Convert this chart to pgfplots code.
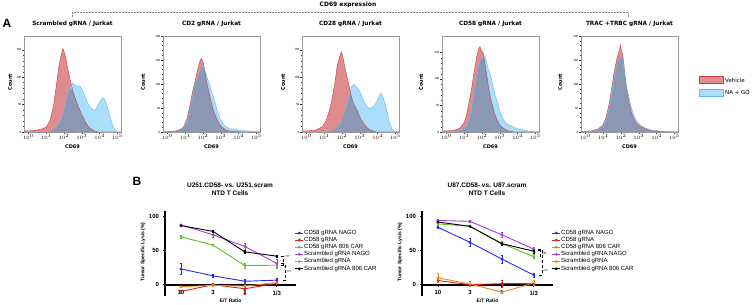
\documentclass[border=0pt]{standalone}
\usepackage{fontspec}
\setmainfont{Liberation Sans}
\newfontfamily\verd{DejaVu Sans}
\usepackage{pgfplots}
\pgfplotsset{compat=1.18}
\usepackage{pgfplotstable}

\definecolor{hred}{RGB}{224,140,142}
\definecolor{hredline}{RGB}{205,60,70}
\definecolor{hblue}{RGB}{170,222,250}
\definecolor{hblueline}{RGB}{100,185,235}
\definecolor{hover}{RGB}{138,152,182}
\definecolor{cBlue}{RGB}{40,40,250}
\definecolor{cRed}{RGB}{225,30,30}
\definecolor{cGreen}{RGB}{100,190,40}
\definecolor{cPurple}{RGB}{165,60,235}
\definecolor{cOrange}{RGB}{240,130,40}

\pgfplotstableread{
x r b
-0.25 55 0
-0.22 2 0
0.0 2 0
0.4 3 0
0.8 6 0
1.0 9 0
1.2 20 1
1.4 46 4
1.55 80 8
1.7 118 14
1.8 135 20
1.9 148 28
1.95 152 33
2.0 147 40
2.1 135 55
2.2 116 68
2.35 95 82
2.5 74 89
2.6 64 86
2.7 55 84
2.8 46 82
2.9 39 84
3.0 31 79
3.1 25 71
3.2 18 63
3.3 13 55
3.4 9 48
3.5 6 44
3.6 4 41
3.7 2 40
3.8 1 42
3.9 0 48
4.0 0 55
4.1 0 60
4.2 0 62
4.3 0 58
4.4 0 50
4.5 0 38
4.6 0 26
4.7 0 15
4.8 0 7
4.9 0 3
5.0 0 0
5.2 0 0
}\Pone

\pgfplotstableread{
x r b
-0.25 50 3
-0.22 2 0
0.0 1 1
0.4 2 1
0.7 5 3
0.9 10 8
1.1 28 20
1.25 53 40
1.4 82 72
1.55 105 98
1.7 130 115
1.8 145 125
1.9 153 133
1.95 150 137
2.0 146 136
2.1 128 128
2.2 105 118
2.35 80 100
2.5 56 82
2.6 44 70
2.7 34 58
2.8 25 45
2.95 15 28
3.1 9 18
3.3 4 11
3.5 2 7
3.8 1 5
4.2 0 3
4.6 0 2
5.0 0 1
5.2 0 0
}\Ptwo

\pgfplotstableread{
x r b
-0.25 80 0
-0.22 2 0
0.0 2 0
0.5 3 0
0.9 10 0
1.1 20 1
1.3 40 2
1.45 62 3
1.6 90 5
1.72 119 8
1.85 135 12
1.95 146 18
2.02 141 24
2.1 128 32
2.2 112 40
2.3 98 52
2.45 75 75
2.55 62 83
2.65 52 87
2.8 42 82
2.9 36 80
3.05 24 70
3.2 16 58
3.35 10 48
3.5 5 43
3.65 3 44
3.8 1 47
3.95 0 55
4.1 0 66
4.2 0 71
4.3 0 64
4.45 0 48
4.6 0 26
4.7 0 14
4.8 0 6
4.95 0 1
5.2 0 0
}\Pthree

\pgfplotstableread{
x r b
-0.25 50 2
-0.22 2 0
0.0 2 0
0.4 3 1
0.75 7 3
1.0 18 6
1.1 29 10
1.25 52 20
1.4 79 40
1.55 112 72
1.7 142 104
1.8 155 122
1.88 161 132
1.97 153 139
2.08 148 142
2.16 130 143
2.25 110 132
2.36 85 118
2.45 68 111
2.6 48 88
2.74 32 68
2.85 22 58
3.0 13 40
3.2 7 23
3.4 3 15
3.6 1 12
3.8 0 9
4.0 0 6
4.3 0 4
4.6 0 2
5.0 0 0
5.2 0 0
}\Pfour

\pgfplotstableread{
x r b
-0.25 8 2
-0.2 1 1
0.3 2 1
0.7 6 4
1.0 15 11
1.15 30 24
1.3 53 45
1.45 85 75
1.6 122 110
1.75 150 138
1.85 164 148
1.92 172 152
1.97 181 156
2.03 168 158
2.1 160 150
2.2 125 120
2.3 95 95
2.45 60 70
2.6 38 48
2.75 25 32
2.9 17 22
3.1 11 14
3.4 6 8
3.7 3 4
4.2 1 2
4.7 0 1
5.2 0 0
}\Pfive

\pgfplotsset{
  histax/.style={anchor=south west, scale only axis, width=97pt, height=96pt,
    xmin=-0.25, xmax=5.2, ymin=0,
    axis line style={gray!80, line width=0.6pt},
    tick align=outside, xtick pos=left, ytick pos=left,
    tick style={black!80, line width=0.3pt},
    major tick length=1.6pt, minor tick length=0.9pt,
    xtick={0,1,2,3,4,5},
    xticklabels={$10^{0}$,$10^{1}$,$10^{2}$,$10^{3}$,$10^{4}$,$10^{5}$},
    minor xtick={-0.222,-0.155,-0.097,-0.046,
      0.301,0.477,0.602,0.699,0.778,0.845,0.903,0.954,
      1.301,1.477,1.602,1.699,1.778,1.845,1.903,1.954,
      2.301,2.477,2.602,2.699,2.778,2.845,2.903,2.954,
      3.301,3.477,3.602,3.699,3.778,3.845,3.903,3.954,
      4.301,4.477,4.602,4.699,4.778,4.845,4.903,4.954},
    minor y tick num=4,
    ticklabel style={font=\fontsize{3}{3}\selectfont, inner sep=0.8pt},
    /pgf/number format/assume math mode=true,
    axis on top},
  eb/.style={error bars/.cd, y dir=both, y explicit,
    error bar style={line width=0.6pt, solid},
    error mark options={rotate=90, mark size=1.3pt, line width=0.6pt}},
  lineax/.style={anchor=south west, scale only axis, width=131pt, height=84.7pt,
    xmin=-0.5, xmax=3.6, ymin=-16, ymax=108,
    axis x line=middle, axis y line=left,
    x axis line style={-, line width=1.8pt},
    y axis line style={-, line width=1.1pt},
    xtick={0,1,2,3}, xticklabels={10,3,1,1/3},
    ytick={0,50,100}, tick align=outside,
    major tick length=2.5pt, tick style={black, line width=0.9pt},
    ticklabel style={font=\bfseries\fontsize{6}{6}\selectfont},
    /pgf/number format/assume math mode=true,
    clip=false,
    every axis plot/.append style={line width=0.9pt, mark=*, mark size=0.9pt},
    legend style={at={(0.99,0.78)}, anchor=north west, draw=none, fill=none,
      font=\fontsize{6}{6}\selectfont, row sep=0.6pt, inner sep=0pt,
      nodes={inner sep=0.4pt}},
    legend cell align=left,
    legend image code/.code={\draw[#1, mark repeat=2, mark phase=2]
      plot coordinates {(0pt,0pt) (4pt,0pt) (8pt,0pt)};}
  }
}

\newcommand{\hist}[6]{%
\begin{axis}[histax, at={(#1pt,173pt)}, ymax=#3, ytick={#4}]
\addplot[draw=none, fill=hred] table[x=x,y=r]{#2} \closedcycle;
\addplot[draw=none, fill=hblue] table[x=x,y=b]{#2} \closedcycle;
\addplot[draw=none, fill=hover] table[x=x,y expr={min(\thisrow{r},\thisrow{b})}]{#2} \closedcycle;
\addplot[hredline, line width=0.4pt] table[x=x,y=r]{#2};
\addplot[hblueline, line width=0.4pt] table[x=x,y=b]{#2};
\end{axis}
\node[font=\verd\bfseries\fontsize{5.8}{6}\selectfont] at ({#1pt+48.5pt},281pt) {#5};
\node[font=\verd\bfseries\fontsize{5}{5}\selectfont, rotate=90] at ({#1pt-#6pt},223pt) {Count};
\node[font=\verd\bfseries\fontsize{5}{5}\selectfont] at ({#1pt+48.5pt},158pt) {CD69};
}

\begin{document}
\begin{tikzpicture}
\path[use as bounding box] (0,0) rectangle (756pt,305pt);

\node[font=\bfseries\fontsize{12}{12}\selectfont] at (7pt,282pt) {A};
\node[font=\bfseries\fontsize{12}{12}\selectfont] at (137pt,123.5pt) {B};
\node[font=\verd\bfseries\fontsize{6}{6}\selectfont] at (348pt,300pt) {CD69 expression};
\draw[gray, densely dotted, line width=0.5pt] (72pt,288pt) -- (72pt,292.3pt) -- (628pt,292.3pt) -- (628pt,288pt);

\hist{24}{\Pone}{175}{0,50,100,150}{Scrambled gRNA / Jurkat}{14}
\hist{163}{\Ptwo}{200}{0,50,100,150,200}{CD2 gRNA / Jurkat}{20}
\hist{302}{\Pthree}{175}{0,50,100,150}{CD28 gRNA / Jurkat}{19}
\hist{442}{\Pfour}{181}{0,50,100,150}{CD58 gRNA / Jurkat}{21}
\hist{581}{\Pfive}{200}{0,50,100,150,200}{TRAC +TRBC gRNA / Jurkat}{21}

\filldraw[fill=hred, draw=hredline, line width=0.4pt] (699pt,222pt) rectangle (723pt,228.3pt);
\node[anchor=west, font=\verd\fontsize{5.5}{6}\selectfont, inner sep=1pt] at (724pt,225pt) {Vehicle};
\filldraw[fill=hblue, draw=hblueline, line width=0.4pt] (699pt,208.3pt) rectangle (723pt,215.7pt);
\node[anchor=west, font=\verd\fontsize{5.5}{6}\selectfont, inner sep=1pt] at (724pt,212pt) {NA + GO};

% ---------- B1
\begin{axis}[lineax, at={(165pt,9.4pt)}]
\addplot[cBlue, eb] coordinates {(0,23) +- (0,8) (1,13) +- (0,1.5) (2,5) +- (0,3) (3,6.6) +- (0,2)};
\addplot[cRed, eb] coordinates {(0,-10) +- (0,2) (1,0) +- (0,2) (2,-6) +- (0,8) (3,2) +- (0,2)};
\addplot[cGreen, eb] coordinates {(0,70) +- (0,2) (1,58) +- (0,1) (2,28) +- (0,4) (3,28.5) +- (0,4)};
\addplot[cPurple, eb] coordinates {(0,87.5) +- (0,1) (1,73) +- (0,4) (2,56) +- (0,5) (3,31) +- (0,6)};
\addplot[cOrange, eb] coordinates {(0,-3) +- (0,1) (1,-1) +- (0,1) (2,-2) +- (0,1) (3,3) +- (0,1)};
\addplot[black, eb] coordinates {(0,86.5) +- (0,1) (1,78) +- (0,1.5) (2,48) +- (0,2) (3,41.7) +- (0,1.5)};
\legend{CD58 gRNA NAGO, CD58 gRNA, CD58 gRNA 806 CAR, Scrambled gRNA NAGO, Scrambled gRNA, Scrambled gRNA 806 CAR}
\draw[densely dashed, line width=0.4pt] (axis cs:3.14,41.7) -- (axis cs:3.2,41.7) -- (axis cs:3.2,28.5) -- (axis cs:3.14,28.5);
\draw[densely dashed, line width=0.4pt] (axis cs:3.14,31) -- (axis cs:3.26,31) -- (axis cs:3.26,6.6) -- (axis cs:3.14,6.6);
\node[font=\fontsize{4}{4}\selectfont] at (axis cs:3.34,40) {***};
\node[font=\fontsize{4}{4}\selectfont] at (axis cs:3.38,18) {***};
\end{axis}
\node[font=\bfseries\fontsize{6.5}{7}\selectfont] at (230pt,120pt) {U251.CD58- vs. U251.scram};
\node[font=\bfseries\fontsize{6.5}{7}\selectfont] at (230pt,111.7pt) {NTD T Cells};
\node[font=\bfseries\fontsize{5}{5}\selectfont] at (230.5pt,4.3pt) {E/T Ratio};
\node[font=\bfseries\fontsize{5}{5}\selectfont, rotate=90] at (143pt,53pt) {Tumor Specific Lysis (\%)};

% ---------- B2
\begin{axis}[lineax, at={(422pt,9.4pt)}]
\addplot[cBlue, eb] coordinates {(0,84) +- (0,2) (1,62) +- (0,6) (2,37.5) +- (0,6) (3,14) +- (0,3)};
\addplot[cRed, eb] coordinates {(0,6) +- (0,3) (1,0) +- (0,1.5) (2,1.5) +- (0,5) (3,1.5) +- (0,2)};
\addplot[cGreen, eb] coordinates {(0,89) +- (0,1.5) (1,85.5) +- (0,1) (2,60) +- (0,3) (3,41) +- (0,3)};
\addplot[cPurple, eb] coordinates {(0,94) +- (0,1) (1,92.7) +- (0,1) (2,73) +- (0,3) (3,52) +- (0,2)};
\addplot[cOrange, eb] coordinates {(0,10) +- (0,7) (1,1) +- (0,4) (2,-11) +- (0,2) (3,2.5) +- (0,4)};
\addplot[black, eb] coordinates {(0,91.7) +- (0,1.5) (1,85.4) +- (0,1) (2,60) +- (0,2) (3,49) +- (0,3)};
\legend{CD58 gRNA NAGO, CD58 gRNA, CD58 gRNA 806 CAR, Scrambled gRNA NAGO, Scrambled gRNA, Scrambled gRNA 806 CAR}
\draw[densely dashed, line width=0.4pt] (axis cs:3.14,50) -- (axis cs:3.2,50) -- (axis cs:3.2,41) -- (axis cs:3.14,41);
\draw[densely dashed, line width=0.4pt] (axis cs:3.14,52.5) -- (axis cs:3.25,52.5) -- (axis cs:3.25,14) -- (axis cs:3.14,14);
\node[font=\fontsize{4}{4}\selectfont] at (axis cs:3.33,45) {ns};
\node[font=\fontsize{4}{4}\selectfont] at (axis cs:3.37,20) {***};
\end{axis}
\node[font=\bfseries\fontsize{6.5}{7}\selectfont] at (487pt,120pt) {U87.CD58- vs. U87.scram};
\node[font=\bfseries\fontsize{6.5}{7}\selectfont] at (487pt,111.7pt) {NTD T Cells};
\node[font=\bfseries\fontsize{5}{5}\selectfont] at (487.5pt,4.3pt) {E/T Ratio};
\node[font=\bfseries\fontsize{5}{5}\selectfont, rotate=90] at (400pt,53pt) {Tumor Specific Lysis (\%)};
\end{tikzpicture}
\end{document}
